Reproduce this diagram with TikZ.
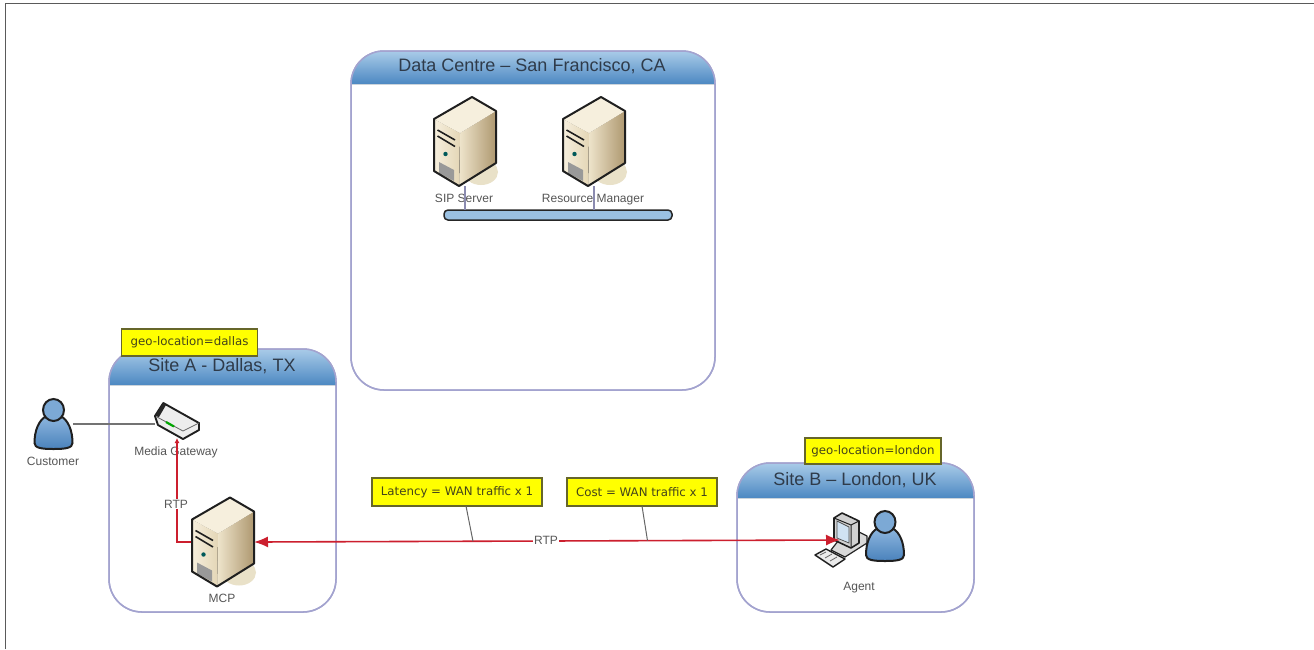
\documentclass[tikz,border=0pt]{standalone}
\usepackage{fontspec}
\setmainfont{Liberation Sans}
\newfontfamily\notefont{DejaVu Sans}
\usetikzlibrary{arrows.meta,calc}
\definecolor{frameline}{HTML}{5A5A5A}
\definecolor{boxline}{HTML}{A3A3CF}
\definecolor{bandtop}{HTML}{A9CBE8}
\definecolor{bandbot}{HTML}{4C88C2}
\definecolor{titletext}{HTML}{2F3B4A}
\definecolor{smalltext}{HTML}{555555}
\definecolor{rtpred}{HTML}{CC1F2E}
\definecolor{noteyellow}{HTML}{FFFF00}
\definecolor{noteline}{HTML}{66662A}
\definecolor{notetext}{HTML}{44441A}
\definecolor{creamA}{HTML}{F6EFDD}
\definecolor{creamB}{HTML}{E4D6B6}
\definecolor{tanA}{HTML}{EFE5CC}
\definecolor{tanB}{HTML}{AE9870}
\definecolor{shadowc}{HTML}{E9E1C8}
\definecolor{personA}{HTML}{8DB6DE}
\definecolor{personB}{HTML}{4A82BC}
\tikzset{
  sitebox/.style={draw=boxline,line width=1.5pt,rounded corners=33pt,fill=white,inner sep=0pt,outer sep=0pt},
  bandfill/.style={top color=bandtop,bottom color=bandbot,draw=none},
  titletxt/.style={font=\fontsize{18}{21}\selectfont,text=titletext,inner sep=0pt},
  smalltxt/.style={font=\fontsize{12}{14}\selectfont,text=smalltext,inner sep=0pt,text height=9pt,text depth=0pt},
  notebox/.style={draw=noteline,line width=1.2pt,fill=noteyellow,inner sep=0pt,outer sep=0pt,font=\notefont\fontsize{11.8}{14}\selectfont,text=notetext},
  icon/.style={inner sep=0pt,outer sep=0pt},
  redline/.style={draw=rtpred,line width=1.6pt},
  busline/.style={draw=boxline!85!black,line width=1.2pt},
  greyline/.style={draw=black!55,line width=1.2pt},
  rtptxt/.style={font=\fontsize{12}{14}\selectfont,text=black!65,fill=white,inner sep=1pt},
  server/.pic={
    \begin{scope}[shift={(-31,-44.5)}]
      \fill[shadowc] (47,75) ellipse (17pt and 13pt);
      \fill[left color=tanA,right color=tanB]
        (26,36) -- (62,14) -- (62,66) -- (25,89) -- cycle;
      \fill[left color=creamA,right color=creamB]
        (0,22) -- (26,36) -- (25,89) -- (0,74) -- cycle;
      \fill[creamA] (0,22) -- (38,0) -- (62,14) -- (26,36) -- cycle;
      \draw[black!88,line width=1.6pt] (3.5,33) -- (21,43);
      \draw[black!88,line width=1.6pt] (3.5,39) -- (21,49.5);
      \fill[teal!70!black] (11.5,57) circle (2.2pt);
      \fill[black!40] (5,65) -- (20,73) -- (20,84) -- (5,76) -- cycle;
      \draw[line width=2pt,line join=round,color=black!88]
        (0,22) -- (38,0) -- (62,14) -- (62,66) -- (25,89) -- (0,74) -- cycle;
    \end{scope}
  },
  person/.pic={
    \begin{scope}[shift={(0,-25)}]
      \draw[draw=black!88,line width=2pt,top color=personA,bottom color=personB]
        (-7,17) .. controls (-15,21) and (-19,32) .. (-19,44)
        .. controls (-19,49) and (-12,50) .. (0,50)
        .. controls (12,50) and (19,49) .. (19,44)
        .. controls (19,32) and (15,21) .. (7,17) -- cycle;
      \draw[draw=black!88,line width=2pt,fill=personA!75!personB] (0,11) ellipse (10.5pt and 11pt);
    \end{scope}
  },
  gateway/.pic={
    \begin{scope}[shift={(-22,-18)}]
      \fill[white!93!black,draw=black!88,line width=1.9pt,line join=round]
        (0,14) -- (8.3,1) -- (44,21) -- (44,28) -- (28,37) -- (3,23) -- cycle;
      \fill[black!85] (0,14) -- (8.3,1) -- (11,3) -- (4,15) -- cycle;
      \draw[black!60,line width=.8pt] (2,15) -- (28,29) -- (44,21);
      \draw[green!65!black,line width=2.2pt] (11,20) -- (19,24.5);
    \end{scope}
  },
  computer/.pic={
    \begin{scope}[shift={(-25,-27)}]
      \fill[white!85!black,draw=black!85,line width=1.2pt,line join=round]
        (34,14) -- (52,23) -- (52,30) -- (30,44) -- (16,37) -- cycle;
      \fill[white!82!black,draw=black!88,line width=1.6pt,line join=round]
        (19,5) -- (27,0) -- (44,8) -- (44,30) -- (36,35) -- (19,27) -- cycle;
      \draw[black!88,line width=1pt] (19,5) -- (36,12) -- (44,8) (36,12) -- (36,35);
      \fill[bandtop!55!white,draw=black!70,line width=.7pt] (22,8) -- (34,14) -- (34,30) -- (22,25) -- cycle;
      \fill[white!92!black,draw=black!88,line width=1.4pt,line join=round]
        (0,42) -- (11,36) -- (30,46) -- (18,54) -- cycle;
      \draw[black!60,line width=.8pt] (5,42) -- (11,39) (10,45) -- (17,41) (15,48) -- (22,44);
    \end{scope}
  }
}
\begin{document}
\begin{tikzpicture}[x=1pt,y=-1pt]
\useasboundingbox (0,0) rectangle (1314,649);
\fill[white] (0,0) rectangle (1314,649);
\coordinate (frameA) at (5.5,649);
\coordinate (frameB) at (5.5,3.5);
\coordinate (frameC) at (1314,3.5);
\draw[frameline,line width=1.5pt] (frameA) -- (frameB) -- (frameC);

% site containers
\node[sitebox,minimum width=364pt,minimum height=339pt] (dc) at (533,220.5) {};
\node[sitebox,minimum width=227pt,minimum height=263pt] (sa) at (222.5,480.5) {};
\node[sitebox,minimum width=237pt,minimum height=149pt] (sb) at (855.5,537.5) {};

% header bands
\fill[bandfill] ([yshift=-33pt]dc.north west) {[rounded corners=33pt] -- (dc.north west) -- (dc.north east)} -- ([yshift=-33pt]dc.north east) -- cycle;
\fill[bandfill] ([yshift=-36pt]sa.north west) {[rounded corners=33pt] -- (sa.north west) -- (sa.north east)} -- ([yshift=-36pt]sa.north east) -- cycle;
\fill[bandfill] ([yshift=-35pt]sb.north west) {[rounded corners=33pt] -- (sb.north west) -- (sb.north east)} -- ([yshift=-35pt]sb.north east) -- cycle;
\draw[boxline,line width=1.5pt,rounded corners=33pt] (dc.north west) rectangle (dc.south east);
\draw[boxline,line width=1.5pt,rounded corners=33pt] (sa.north west) rectangle (sa.south east);
\draw[boxline,line width=1.5pt,rounded corners=33pt] (sb.north west) rectangle (sb.south east);

\node[titletxt] (dctitle) at (532,66.5) {Data Centre – San Francisco, CA};
\node[titletxt] (satitle) at (222,366) {Site A - Dallas, TX};
\node[titletxt] (sbtitle) at (855,480) {Site B – London, UK};

% icon placeholders
\node[icon,minimum width=62pt,minimum height=89pt] (sip) at (465,141.5) {};
\node[icon,minimum width=62pt,minimum height=89pt] (rm) at (594,141.5) {};
\node[icon,minimum width=62pt,minimum height=89pt] (mcp) at (223,542) {};
\node[icon,minimum width=44pt,minimum height=36pt] (gw) at (177,420) {};
\node[icon,minimum width=39pt,minimum height=50pt] (cust) at (53.5,424) {};
\node[icon,minimum width=39pt,minimum height=50pt] (agentp) at (885,536) {};
\node[icon,minimum width=50pt,minimum height=54pt] (comp) at (840,540) {};

% small labels
\node[smalltxt] (l1) at (464,198) {SIP Server};
\node[smalltxt] (l2) at (593,198) {Resource Manager};
\node[smalltxt] (l3) at (176,451) {Media Gateway};
\node[smalltxt] (l4) at (53,461) {Customer};
\node[smalltxt] (l5) at (222,598) {MCP};
\node[smalltxt] (l6) at (859,586) {Agent};

% bus
\node[icon,draw=black!85,line width=1.5pt,fill=bandtop!85!bandbot,rounded corners=4pt,minimum width=228pt,minimum height=10pt] (bus) at (558,215) {};
\draw[busline] (sip.south) -- (sip.south |- bus.north);
\draw[busline] (rm.south) -- (rm.south |- bus.north);

% connectors
\draw[greyline] (cust.east) -- (cust.east -| gw.west);
\draw[redline,-{Latex[length=5pt,width=5pt]}] (mcp.west) -- (mcp.west -| gw.south) -- (gw.south);

% icons
\pic at (sip.center) {server};
\pic at (rm.center) {server};
\pic at (mcp.center) {server};
\pic at (gw.center) {gateway};
\pic at (cust.center) {person};
\pic at (comp.center) {computer};
\pic at (agentp.center) {person};

% WAN link
\draw[redline,{Latex[length=14pt,width=11pt]}-{Latex[length=14pt,width=11pt]}] (mcp.east) -- coordinate[pos=0.3737] (wanA) coordinate[pos=0.6715] (wanB) (comp.center);
\node[rtptxt] (rtpw) at (546,540) {RTP};
\node[rtptxt] (rtpv) at (176,504) {RTP};

% notes
\node[notebox,minimum width=136pt,minimum height=27pt] (ngeoa) at (189.5,342.5) {geo-location=dallas};
\node[notebox,minimum width=136pt,minimum height=26pt] (ngeob) at (873,451) {geo-location=london};
\node[notebox,minimum width=170pt,minimum height=28pt] (nlat) at (457,492) {Latency = WAN traffic x 1};
\node[notebox,minimum width=150pt,minimum height=28pt] (ncost) at (642,492) {Cost = WAN traffic x 1};
\draw[black!60,line width=1pt] ([xshift=9pt]nlat.south) -- (wanA);
\draw[black!60,line width=1pt] (ncost.south) -- (wanB);
\end{tikzpicture}
\end{document}
